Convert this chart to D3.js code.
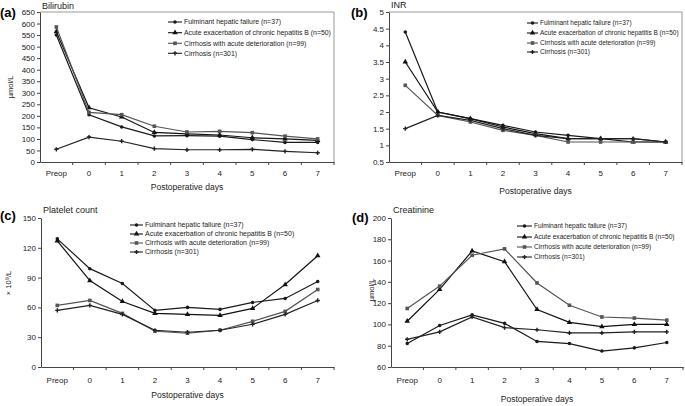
<!DOCTYPE html>
<html>
<head>
<meta charset="utf-8">
<script src="https://cdn.jsdelivr.net/npm/d3@7"></script>
<style>
  body { margin: 0; background: #fff; }
  svg { font-family: "Liberation Sans", Arial, sans-serif; }
</style>
</head>
<body>
<svg id="chart" width="685" height="406"></svg>
<script>
// categories and series
const days = ["Preop", "0", "1", "2", "3", "4", "5", "6", "7"];
const seriesNames = [
    "Fulminant hepatic failure (n=37)",
    "Acute exacerbation of chronic hepatitis B (n=50)",
    "Cirrhosis with acute deterioration (n=99)",
    "Cirrhosis (n=301)"
];

// values, one row per series (same order as seriesNames)
const bilirubin = [
    [550, 205, 152, 113, 114, 112, 97, 85, 85],
    [565, 235, 195, 128, 122, 117, 105, 100, 94],
    [585, 215, 205, 155, 130, 133, 127, 112, 100],
    [55, 108, 90, 58, 53, 53, 55, 46, 40]
];
const inr = [
    [4.4, 2.0, 1.8, 1.6, 1.4, 1.3, 1.2, 1.2, 1.1],
    [3.5, 2.0, 1.8, 1.55, 1.35, 1.2, 1.2, 1.1, 1.1],
    [2.8, 1.9, 1.7, 1.45, 1.3, 1.1, 1.1, 1.1, 1.1],
    [1.5, 1.9, 1.75, 1.5, 1.3, 1.2, 1.2, 1.2, 1.1]
];
const platelet = [
    [129, 99, 84, 57, 60, 58, 65, 69, 86],
    [127, 87, 66, 54, 53, 52, 59, 83, 112],
    [62, 67, 54, 36, 34, 37, 46, 56, 78],
    [57, 62, 53, 37, 35, 37, 43, 53, 67]
];
const creatinine = [
    [82, 99, 109, 101, 84, 82, 75, 78, 83],
    [103, 133, 169, 159, 114, 102, 98, 100, 100],
    [115, 136, 165, 171, 139, 118, 107, 106, 104],
    [86, 93, 107, 97, 95, 92, 92, 93, 93]
];

// tick labels
const biliTicks = [0, 50, 100, 150, 200, 250, 300, 350, 400, 450, 500, 550, 600, 650];
const inrTicks = [0.5, 1, 1.5, 2, 2.5, 3, 3.5, 4, 4.5, 5];
const plateletTicks = [0, 30, 60, 90, 120, 150];
const creatTicks = [60, 80, 100, 120, 140, 160, 180, 200];

const lineColors = ["#1a1a1a", "#111", "#555", "#222"];
const symbols = [d3.symbolCircle, d3.symbolTriangle, d3.symbolSquare, d3.symbolCross];
const symSizes = [10, 13, 13, 10];

let svg = d3.select('#chart');

function drawPanel(p) {
    let g = svg.append('g');

    let x = d3.scaleBand().domain(days).range([p.left, p.right]);
    let y = d3.scaleLinear().domain([p.ticks[0], p.ticks[p.ticks.length - 1]]).range([p.bottom, p.top]);

    //frame (top + right only)
    if (p.frame) {
        g.append('path')
            .attr('d', `M${p.left},${p.top}H${p.right}V${p.bottom}`)
            .attr('fill', 'none')
            .attr('stroke', '#999')
            .attr('stroke-width', 1);
    }

    // y axis
    let yAxis = g.append('g')
        .attr('transform', `translate(${p.left},0)`)
        .call(d3.axisLeft(y).tickValues(p.ticks).tickFormat(d => d).tickSize(3).tickSizeOuter(0));
    yAxis.select('.domain').attr('stroke', '#444');
    yAxis.selectAll('.tick line').attr('stroke', '#444');
    yAxis.selectAll('text').attr('font-size', 8).attr('fill', '#222').attr('x', -5);

    // x axis, ticks between the categories
    let xAxis = g.append('g')
        .attr('transform', `translate(0,${p.bottom})`)
        .call(d3.axisBottom(x).tickSize(0).tickSizeOuter(0));
    xAxis.select('.domain').attr('stroke', '#444');
    xAxis.selectAll('text').attr('font-size', 8).attr('fill', '#222').attr('dy', '0').attr('y', p.tickLabelY - p.bottom);
    g.append('g').selectAll('line')
        .data(days.slice(1))
        .join('line')
        .attr('x1', d => x(d)).attr('x2', d => x(d))
        .attr('y1', p.bottom).attr('y2', p.bottom + 3)
        .attr('stroke', '#444');
    g.append('line')
        .attr('x1', p.right).attr('x2', p.right)
        .attr('y1', p.bottom).attr('y2', p.bottom + 3)
        .attr('stroke', '#444');

    let line = d3.line()
        .x((d, i) => x(days[i]) + x.bandwidth() / 2)
        .y(d => y(d));

    p.data.forEach((vals, s) => {
        g.append('path')
            .datum(vals)
            .attr('d', line)
            .attr('fill', 'none')
            .attr('stroke', lineColors[s])
            .attr('stroke-width', 1.2);
        g.append('g').selectAll('path')
            .data(vals)
            .join('path')
            .attr('transform', (d, i) => `translate(${x(days[i]) + x.bandwidth() / 2},${y(d)})`)
            .attr('d', d3.symbol().type(symbols[s]).size(symSizes[s]))
            .attr('fill', lineColors[s]);
    });

    // legend
    seriesNames.forEach((name, s) => {
        let ly = p.legY[s];
        g.append('line')
            .attr('x1', p.legX).attr('x2', p.legX + p.legLen)
            .attr('y1', ly).attr('y2', ly)
            .attr('stroke', lineColors[s]).attr('stroke-width', 1.1);
        g.append('path')
            .attr('transform', `translate(${p.legX + p.legLen / 2},${ly})`)
            .attr('d', d3.symbol().type(symbols[s]).size(symSizes[s]))
            .attr('fill', lineColors[s]);
        g.append('text')
            .attr('x', p.legX + p.legLen + 2)
            .attr('y', ly + p.legFont * 0.35)
            .attr('font-size', p.legFont)
            .attr('fill', '#222')
            .text(name);
    });

    // titles and labels
    g.append('text')
        .attr('x', p.letterX).attr('y', p.letterY)
        .attr('font-size', 13).attr('font-weight', 'bold')
        .text(p.letter);
    g.append('text')
        .attr('x', p.left + 2).attr('y', p.titleY)
        .attr('font-size', 9).attr('fill', '#222')
        .text(p.title);
    g.append('text')
        .attr('x', (p.left + p.right) / 2).attr('y', p.xLabelY)
        .attr('text-anchor', 'middle')
        .attr('font-size', 8.5).attr('fill', '#222')
        .text('Postoperative days');
    if (p.yLabel) {
        g.append('text')
            .attr('transform', `translate(${p.yLabelX},${p.yLabelY}) rotate(-90)`)
            .attr('text-anchor', 'middle')
            .attr('font-size', 7.5).attr('fill', '#222')
            .text(p.yLabel);
    }
}

drawPanel({
    data: bilirubin, ticks: biliTicks, frame: true,
    left: 40, right: 334, top: 12, bottom: 162, tickLabelY: 176,
    letter: '(a)', letterX: 0, letterY: 17, title: 'Bilirubin', titleY: 9,
    xLabelY: 190, yLabel: 'µmol/L', yLabelX: 13, yLabelY: 87,
    legX: 168, legLen: 14, legY: [22, 32.7, 43.3, 53.3], legFont: 6.9
});
drawPanel({
    data: inr, ticks: inrTicks, frame: true,
    left: 389, right: 682, top: 12, bottom: 162, tickLabelY: 176,
    letter: '(b)', letterX: 351, letterY: 17, title: 'INR', titleY: 8,
    xLabelY: 194, yLabel: null,
    legX: 527, legLen: 11, legY: [23, 33, 43, 52], legFont: 6.5
});
drawPanel({
    data: platelet, ticks: plateletTicks, frame: false,
    left: 41, right: 334, top: 218, bottom: 367, tickLabelY: 383,
    letter: '(c)', letterX: 0, letterY: 220, title: 'Platelet count', titleY: 213,
    xLabelY: 398, yLabel: '× 10⁹/L', yLabelX: 11, yLabelY: 283,
    legX: 130, legLen: 13, legY: [225, 234, 243, 252], legFont: 7
});
drawPanel({
    data: creatinine, ticks: creatTicks, frame: false,
    left: 391, right: 683, top: 218, bottom: 367, tickLabelY: 383,
    letter: '(d)', letterX: 352, letterY: 222, title: 'Creatinine', titleY: 213,
    xLabelY: 402, yLabel: 'µmol/L', yLabelX: 374, yLabelY: 290,
    legX: 517, legLen: 15, legY: [226, 237, 247, 257], legFont: 6.6
});
</script>
</body>
</html>
